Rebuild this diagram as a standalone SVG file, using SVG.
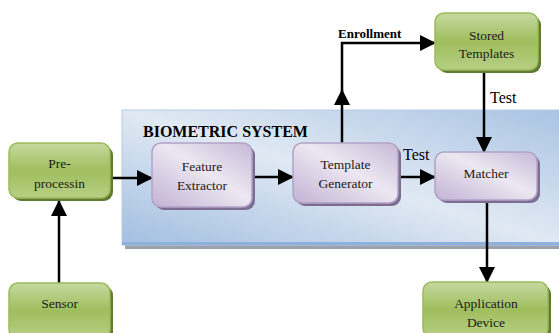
<svg xmlns="http://www.w3.org/2000/svg" width="559" height="333" viewBox="0 0 559 333">
<style>
.t{font-family:"Liberation Serif","Times New Roman",serif;font-size:13.5px;fill:#1a1a1a;text-anchor:middle}
.b{font-family:"Liberation Serif","Times New Roman",serif;font-weight:bold;fill:#000}
.lbl{font-family:"Liberation Serif","Times New Roman",serif;fill:#000;font-size:16px}
.g{fill:url(#gg);stroke:#9bbb59;stroke-width:1.5}
.gs{fill:#5f7a32}
.p{fill:url(#pg);stroke:#b3a2c7;stroke-width:1.5}
.ps{fill:#7d6e91}
.c{fill:none;stroke:#000;stroke-width:2.5}
</style>
<defs>
<linearGradient id="gg" x1="0" y1="0" x2="0" y2="1">
<stop offset="0" stop-color="#c6d9a0"/>
<stop offset="0.5" stop-color="#9fbe5d"/>
<stop offset="1" stop-color="#b7cf85"/>
</linearGradient>
<linearGradient id="pg" x1="1" y1="0" x2="0" y2="1">
<stop offset="0" stop-color="#c6b8d8"/>
<stop offset="0.45" stop-color="#ece8f1"/>
<stop offset="1" stop-color="#c2b2d5"/>
</linearGradient>
<linearGradient id="bg" x1="0" y1="1" x2="1" y2="0">
<stop offset="0" stop-color="#a2bee1"/>
<stop offset="0.5" stop-color="#e0e9f3"/>
<stop offset="1" stop-color="#a9c3e3"/>
</linearGradient>
<marker id="ah" markerUnits="userSpaceOnUse" markerWidth="16" markerHeight="16" refX="15" refY="8" orient="auto" viewBox="0 0 16 16">
<path d="M0,0 L16,8 L0,16 z" fill="#000"/>
</marker>
</defs>

<g id="system">
<rect x="125" y="113" width="440" height="136" fill="#9aa3ad"/>
<rect x="122" y="110" width="440" height="135" fill="url(#bg)" stroke="#b8cce4" stroke-width="1"/>
<rect x="122" y="242" width="440" height="3" fill="#8db0dc"/>
<text class="b" x="143" y="137" font-size="16">BIOMETRIC SYSTEM</text>
</g>

<g id="connectors">
<path class="c" d="M59,283 V201" marker-end="url(#ah)"/>
<path class="c" d="M110,178 H152" marker-end="url(#ah)"/>
<path class="c" d="M252,177 H293" marker-end="url(#ah)"/>
<path class="c" d="M342,143 V90" marker-end="url(#ah)"/>
<path class="c" d="M342,91 V43 H435" marker-end="url(#ah)"/>
<path class="c" d="M398,177 H435" marker-end="url(#ah)"/>
<path class="c" d="M484,70 V152" marker-end="url(#ah)"/>
<path class="c" d="M487,203 V282" marker-end="url(#ah)"/>
<text class="b" x="338" y="38" font-size="13">Enrollment</text>
<text class="lbl" x="403" y="160">Test</text>
<text class="lbl" x="490" y="103">Test</text>
</g>

<g id="preprocessing">
<rect class="gs" x="12" y="146" width="101" height="55" rx="9"/>
<rect class="g" x="9" y="143" width="101" height="55" rx="9"/>
<text class="t" x="59.5" y="168">Pre-</text>
<text class="t" x="59.5" y="188">processin</text>
</g>

<g id="sensor">
<rect class="gs" x="12" y="286" width="101" height="55" rx="9"/>
<rect class="g" x="9" y="283" width="101" height="55" rx="9"/>
<text class="t" x="59.5" y="308">Sensor</text>
</g>

<g id="feature-extractor">
<rect class="ps" x="155" y="146" width="100" height="64" rx="9"/>
<rect class="p" x="152" y="143" width="100" height="64" rx="9"/>
<text class="t" x="202" y="171">Feature</text>
<text class="t" x="202" y="190">Extractor</text>
</g>

<g id="template-generator">
<rect class="ps" x="296" y="146" width="105" height="60" rx="9"/>
<rect class="p" x="293" y="143" width="105" height="60" rx="9"/>
<text class="t" x="345.5" y="169">Template</text>
<text class="t" x="345.5" y="188">Generator</text>
</g>

<g id="matcher">
<rect class="ps" x="438" y="155" width="102" height="48" rx="9"/>
<rect class="p" x="435" y="152" width="102" height="48" rx="9"/>
<text class="t" x="486" y="178">Matcher</text>
</g>

<g id="stored-templates">
<rect class="gs" x="438" y="16" width="103" height="57" rx="9"/>
<rect class="g" x="435" y="13" width="103" height="57" rx="9"/>
<text class="t" x="486.5" y="40">Stored</text>
<text class="t" x="486.5" y="58">Templates</text>
</g>

<g id="application-device">
<rect class="gs" x="426" y="285" width="125" height="55" rx="9"/>
<rect class="g" x="423" y="282" width="125" height="55" rx="9"/>
<text class="t" x="486" y="308">Application</text>
<text class="t" x="486" y="327">Device</text>
</g>
</svg>
